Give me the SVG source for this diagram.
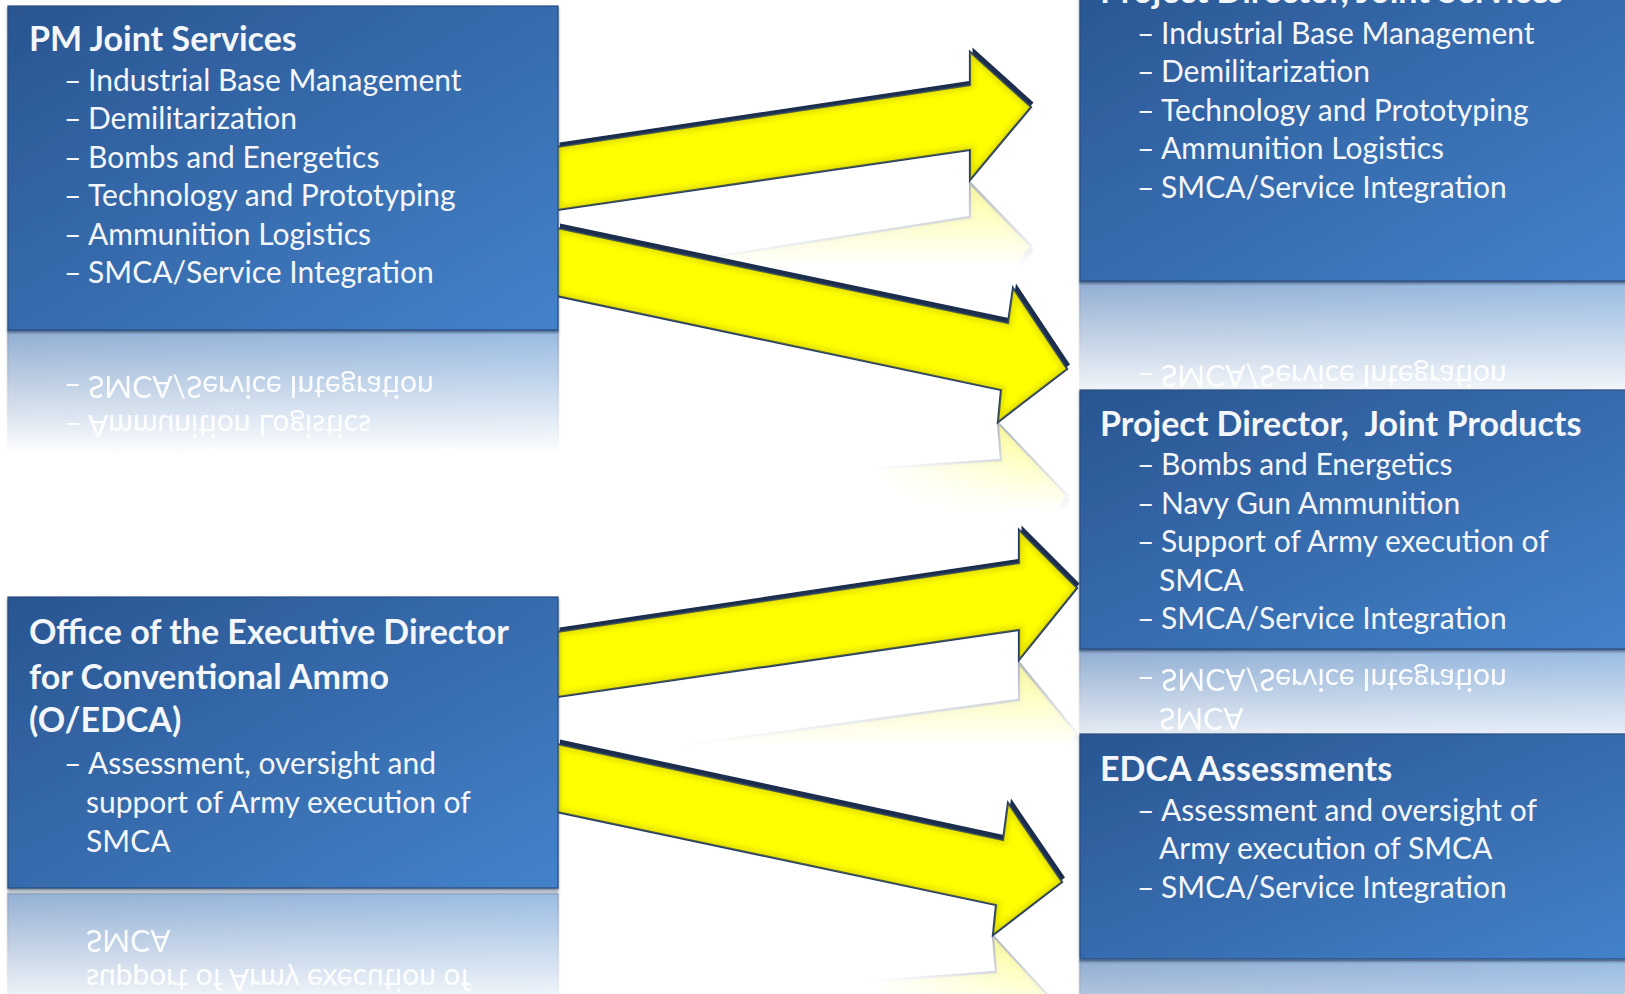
<svg xmlns="http://www.w3.org/2000/svg" xmlns:xlink="http://www.w3.org/1999/xlink" width="1625" height="994" viewBox="0 0 1625 994">
<style>
.box{fill:url(#boxGrad);stroke:#2a4d80;stroke-width:1.2;filter:url(#boxShadow)}
.t{font-family:Lato,'Open Sans','Liberation Sans',sans-serif;fill:#f3f6fb}
.title{font-size:34px;font-weight:700}
.item{font-size:30px}
.pre{white-space:pre}
.ashadow{fill:#1a2d4c;filter:url(#soft)}
.afill{fill:#ffff00;stroke:#243b62;stroke-width:2.2;stroke-linejoin:miter}
.abevel{fill:none;stroke:#b8b000;stroke-width:9;stroke-opacity:.35;filter:url(#blur3)}
</style>
<defs>
<linearGradient id="boxGrad" x1="0" y1="0" x2="1" y2="1">
<stop offset="0" stop-color="#2a5591"/>
<stop offset="1" stop-color="#4382ca"/>
</linearGradient>
<linearGradient id="fadeBox" x1="0" y1="0" x2="0" y2="1">
<stop offset="0" stop-color="#fff" stop-opacity=".55"/>
<stop offset="1" stop-color="#fff" stop-opacity="0"/>
</linearGradient>
<linearGradient id="fadeArrow" x1="0" y1="0" x2="0" y2="1">
<stop offset="0" stop-color="#fff" stop-opacity=".4"/>
<stop offset="1" stop-color="#fff" stop-opacity="0"/>
</linearGradient>
<linearGradient id="fadeFull" x1="0" y1="0" x2="0" y2="1">
<stop offset="0" stop-color="#fff" stop-opacity="1"/>
<stop offset="1" stop-color="#fff" stop-opacity="0"/>
</linearGradient>
<linearGradient id="fadeA2" gradientUnits="userSpaceOnUse" x1="998" y1="422" x2="878" y2="482">
<stop offset="0" stop-color="#fff" stop-opacity=".4"/>
<stop offset="1" stop-color="#fff" stop-opacity="0"/>
</linearGradient>
<linearGradient id="fadeA4" gradientUnits="userSpaceOnUse" x1="993" y1="935" x2="873" y2="995">
<stop offset="0" stop-color="#fff" stop-opacity=".4"/>
<stop offset="1" stop-color="#fff" stop-opacity="0"/>
</linearGradient>
<filter id="soft" x="-5%" y="-5%" width="110%" height="110%"><feGaussianBlur stdDeviation="0.6"/></filter>
<filter id="blur3" x="-5%" y="-5%" width="110%" height="110%"><feGaussianBlur stdDeviation="2.5"/></filter>
<filter id="boxShadow" x="-2%" y="-2%" width="104%" height="106%"><feDropShadow dx="0" dy="2" stdDeviation="1.2" flood-color="#1c3355" flood-opacity=".6"/></filter>
<path id="a1p" d="M557,147 L970,85 L970,52 L1031,107 L970,180 L970,150 L557,210 Z"/>
<path id="a2p" d="M557,228 L1008,323 L1013,288 L1067,369 L998,422 L1001,390 L557,296 Z"/>
<path id="a3p" d="M557,632 L1019,563 L1019,530 L1077,588 L1019,660 L1019,630 L557,697 Z"/>
<path id="a4p" d="M557,744 L1003,840 L1008,803 L1062,882 L993,935 L996,905 L557,812 Z"/>
<clipPath id="c1"><use href="#a1p"/></clipPath>
<clipPath id="c2"><use href="#a2p"/></clipPath>
<clipPath id="c3"><use href="#a3p"/></clipPath>
<clipPath id="c4"><use href="#a4p"/></clipPath>
<mask id="mb1" maskUnits="userSpaceOnUse" x="0" y="0" width="1625" height="994"><rect x="0" y="330" width="575" height="125" fill="url(#fadeBox)"/></mask>
<mask id="mb2" maskUnits="userSpaceOnUse" x="0" y="0" width="1625" height="994"><rect x="1070" y="281" width="560" height="125" fill="url(#fadeBox)"/></mask>
<mask id="mb3" maskUnits="userSpaceOnUse" x="0" y="0" width="1625" height="994"><rect x="1070" y="649" width="560" height="110" fill="url(#fadeBox)"/></mask>
<mask id="mb4" maskUnits="userSpaceOnUse" x="0" y="0" width="1625" height="994"><rect x="1070" y="960" width="560" height="120" fill="url(#fadeBox)"/></mask>
<mask id="mb5" maskUnits="userSpaceOnUse" x="0" y="0" width="1625" height="994"><rect x="0" y="889" width="575" height="125" fill="url(#fadeBox)"/></mask>
<mask id="ma1" maskUnits="userSpaceOnUse" x="0" y="0" width="1625" height="994"><rect x="560" y="181" width="540" height="85" fill="url(#fadeArrow)"/></mask>
<mask id="ma2" maskUnits="userSpaceOnUse" x="0" y="0" width="1625" height="994"><rect x="560" y="422" width="540" height="100" fill="url(#fadeA2)"/></mask>
<mask id="mv2" maskUnits="userSpaceOnUse" x="0" y="0" width="1625" height="994"><rect x="560" y="422" width="540" height="90" fill="url(#fadeFull)"/></mask>
<mask id="ma3" maskUnits="userSpaceOnUse" x="0" y="0" width="1625" height="994"><rect x="560" y="661" width="540" height="85" fill="url(#fadeArrow)"/></mask>
<mask id="ma4" maskUnits="userSpaceOnUse" x="0" y="0" width="1625" height="994"><rect x="560" y="935" width="540" height="100" fill="url(#fadeA4)"/></mask>
<mask id="mv4" maskUnits="userSpaceOnUse" x="0" y="0" width="1625" height="994"><rect x="560" y="935" width="540" height="90" fill="url(#fadeFull)"/></mask>
</defs>
<rect width="1625" height="994" fill="#ffffff"/>

<g id="reflections">
<g mask="url(#mb1)"><use href="#pm-joint-services" transform="matrix(1,0,0,-1,0,659)"/></g>
<g mask="url(#mb2)"><use href="#pd-joint-services" transform="matrix(1,0,0,-1,0,562)"/></g>
<g mask="url(#mb3)"><use href="#pd-joint-products" transform="matrix(1,0,0,-1,0,1298)"/></g>
<g mask="url(#mb4)"><use href="#edca-assessments" transform="matrix(1,0,0,-1,0,1919)"/></g>
<g mask="url(#mb5)"><use href="#oedca" transform="matrix(1,0,0,-1,0,1782)"/></g>
<g mask="url(#ma1)"><use href="#arrow1" transform="matrix(1,-0.321,0,-1.133,0,698.4)"/></g>
<g mask="url(#mv2)"><g mask="url(#ma2)"><use href="#arrow2" transform="matrix(1,0.173,0,-1.14,0,731.4)"/></g></g>
<g mask="url(#ma3)"><use href="#arrow3" transform="matrix(1,-0.314,0,-1.233,0,1796.8)"/></g>
<g mask="url(#mv4)"><g mask="url(#ma4)"><use href="#arrow4" transform="matrix(1,0.175,0,-1.1825,0,1867.8)"/></g></g>
</g>

<g id="connectors">
<g id="arrow1"><use href="#a1p" class="ashadow" transform="translate(2.5,-4.5)"/><use href="#a1p" class="afill"/><use href="#a1p" class="abevel" clip-path="url(#c1)"/></g>
<g id="arrow2"><use href="#a2p" class="ashadow" transform="translate(3,-4.5)"/><use href="#a2p" class="afill"/><use href="#a2p" class="abevel" clip-path="url(#c2)"/></g>
<g id="arrow3"><use href="#a3p" class="ashadow" transform="translate(2.5,-4.5)"/><use href="#a3p" class="afill"/><use href="#a3p" class="abevel" clip-path="url(#c3)"/></g>
<g id="arrow4"><use href="#a4p" class="ashadow" transform="translate(3,-4.5)"/><use href="#a4p" class="afill"/><use href="#a4p" class="abevel" clip-path="url(#c4)"/></g>
</g>

<g id="pm-joint-services">
<rect class="box" x="8" y="6" width="550" height="324"/>
<text class="t title" x="29" y="51">PM Joint Services</text>
<text class="t item" y="90.5"><tspan x="64">–</tspan><tspan x="88">Industrial Base Management</tspan></text>
<text class="t item" y="129"><tspan x="64">–</tspan><tspan x="88">Demilitarization</tspan></text>
<text class="t item" y="167.5"><tspan x="64">–</tspan><tspan x="88">Bombs and Energetics</tspan></text>
<text class="t item" y="206"><tspan x="64">–</tspan><tspan x="88">Technology and Prototyping</tspan></text>
<text class="t item" y="244.5"><tspan x="64">–</tspan><tspan x="88">Ammunition Logistics</tspan></text>
<text class="t item" y="283"><tspan x="64">–</tspan><tspan x="88">SMCA/Service Integration</tspan></text>
</g>

<g id="pd-joint-services">
<rect class="box" x="1080" y="-30" width="560" height="311"/>
<text class="t title" x="1100" y="3">Project Director, Joint Services</text>
<text class="t item" y="43.5"><tspan x="1137">–</tspan><tspan x="1161">Industrial Base Management</tspan></text>
<text class="t item" y="82"><tspan x="1137">–</tspan><tspan x="1161">Demilitarization</tspan></text>
<text class="t item" y="120.5"><tspan x="1137">–</tspan><tspan x="1161">Technology and Prototyping</tspan></text>
<text class="t item" y="159"><tspan x="1137">–</tspan><tspan x="1161">Ammunition Logistics</tspan></text>
<text class="t item" y="197.5"><tspan x="1137">–</tspan><tspan x="1161">SMCA/Service Integration</tspan></text>
</g>

<g id="pd-joint-products">
<rect class="box" x="1080" y="390" width="560" height="259"/>
<text class="t title pre" x="1100" y="436">Project Director,  Joint Products</text>
<text class="t item" y="475"><tspan x="1137">–</tspan><tspan x="1161">Bombs and Energetics</tspan></text>
<text class="t item" y="513.5"><tspan x="1137">–</tspan><tspan x="1161">Navy Gun Ammunition</tspan></text>
<text class="t item" y="552"><tspan x="1137">–</tspan><tspan x="1161">Support of Army execution of</tspan></text>
<text class="t item" x="1159" y="590.5">SMCA</text>
<text class="t item" y="629"><tspan x="1137">–</tspan><tspan x="1161">SMCA/Service Integration</tspan></text>
</g>

<g id="edca-assessments">
<rect class="box" x="1080" y="734" width="560" height="225"/>
<text class="t title" x="1100" y="781">EDCA Assessments</text>
<text class="t item" y="820.5"><tspan x="1137">–</tspan><tspan x="1161">Assessment and oversight of</tspan></text>
<text class="t item" x="1159" y="859">Army execution of SMCA</text>
<text class="t item" y="897.5"><tspan x="1137">–</tspan><tspan x="1161">SMCA/Service Integration</tspan></text>
</g>

<g id="oedca">
<rect class="box" x="8" y="597" width="550" height="291"/>
<text class="t title" x="29" y="644">Office of the Executive Director</text>
<text class="t title" x="29" y="688.5">for Conventional Ammo</text>
<text class="t title" x="29" y="732">(O/EDCA)</text>
<text class="t item" y="773.5"><tspan x="64">–</tspan><tspan x="88">Assessment, oversight and</tspan></text>
<text class="t item" x="86" y="813">support of Army execution of</text>
<text class="t item" x="86" y="852">SMCA</text>
</g>
</svg>
